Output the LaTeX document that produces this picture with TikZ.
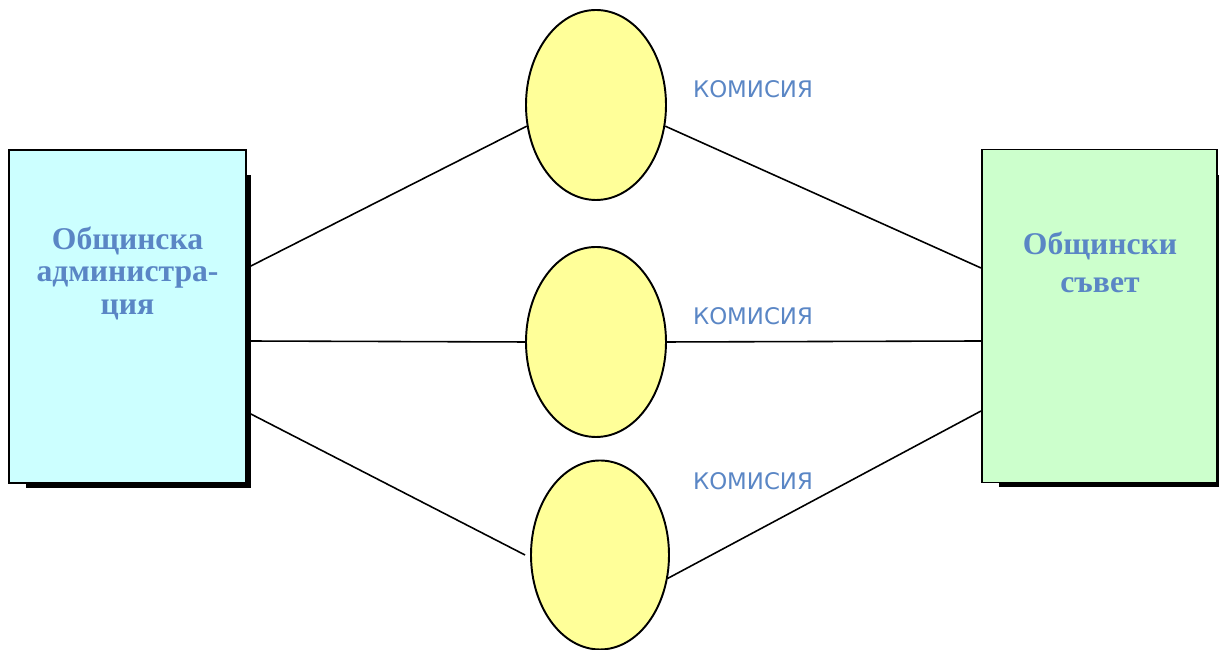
\documentclass[tikz,border=0pt]{standalone}
\usepackage{fontspec}
\setmainfont{Liberation Serif}
\newfontfamily\labelfont{DejaVu Sans}
\usetikzlibrary{shapes.geometric}
\definecolor{boxtext}{HTML}{5A86C5}
\definecolor{adminfill}{HTML}{CCFFFF}
\definecolor{councilfill}{HTML}{CCFFCC}
\definecolor{commfill}{HTML}{FFFF99}

\begin{document}
\begin{tikzpicture}[
  bodybox/.style={draw, line width=1.1pt, minimum height=6.66cm, inner sep=0pt},
  bodytext/.style={text=boxtext, font=\bfseries\fontsize{18}{20}\selectfont, align=center},
  commission/.style={ellipse, draw, line width=1.1pt, fill=commfill, minimum width=2.8cm, minimum height=3.8cm, inner sep=0pt},
  commlabel/.style={text=boxtext, font=\labelfont\fontsize{13}{15}\selectfont},
  link/.style={line width=0.9pt},
  boxshadow/.style={line width=2.4pt}
]
%\draw [help lines] (0,0) grid (25,13);
\useasboundingbox (0,0) rectangle (24.38,13);

\node [bodybox, fill=adminfill, minimum width=4.74cm] (admin) at (2.55,6.67) {};
\draw [boxshadow] ([xshift=0.36cm, yshift=-0.03cm]admin.south west) -- ([xshift=0.04cm, yshift=-0.03cm]admin.south east) -- ([xshift=0.04cm, yshift=-0.52cm]admin.north east);
\node [bodytext, font=\bfseries\fontsize{18}{18.5}\selectfont] (admintext) at (2.55,7.54) {Общинска\\администра-\\ция};

\node [bodybox, fill=councilfill, minimum width=4.70cm] (council) at (21.99,6.68) {};
\draw [boxshadow] ([xshift=0.36cm, yshift=-0.03cm]council.south west) -- ([xshift=0.04cm, yshift=-0.03cm]council.south east) -- ([xshift=0.04cm, yshift=-0.52cm]council.north east);
\node [bodytext, font=\bfseries\fontsize{18}{21.6}\selectfont] (counciltext) at (22.0,7.76) {Общински\\съвет};

\node [commission] (comm1) at (11.92,10.9) {};
\node [commission] (comm2) at (11.92,6.16) {};
\node [commission, minimum width=2.76cm, minimum height=3.78cm] (comm3) at (12.0,1.9) {};

\node [commlabel] (label1) at (15.06,11.22) {КОМИСИЯ};
\node [commlabel] (label2) at (15.06,6.68) {КОМИСИЯ};
\node [commlabel] (label3) at (15.06,3.38) {КОМИСИЯ};

\draw [link] ([yshift=0.97cm]admin.east) -- (comm1.197);
\draw [link] ([yshift=-0.49cm]admin.east) -- (comm2.west);
\draw [link] ([yshift=-1.91cm]admin.east) -- ([xshift=-0.1cm]comm3.west);

\draw [link] (comm1.343) -- ([yshift=0.96cm]council.west);
\draw [link] (comm2.east) -- ([yshift=-0.5cm]council.west);
\draw [link] (comm3.341) -- ([yshift=-1.9cm]council.west);

\end{tikzpicture}
\end{document}
